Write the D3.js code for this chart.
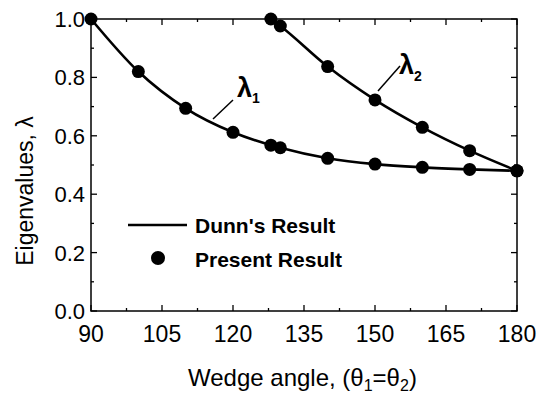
<!DOCTYPE html>
<html>
<head>
<meta charset="utf-8">
<script src="https://cdn.jsdelivr.net/npm/d3@7"></script>
<style>
  html, body { margin: 0; padding: 0; background: #fff; }
  svg { display: block; }
  text { font-family: "Liberation Sans", Arial, sans-serif; fill: #000; }
</style>
</head>
<body>
<script>
// Wedge angle (degrees, θ1 = θ2)
const angles1 = [90, 100, 110, 120, 128, 130, 140, 150, 160, 170, 180];
const lambda1 = [1.0, 0.820, 0.694, 0.612, 0.568, 0.559, 0.523, 0.503, 0.492, 0.485, 0.480];
const angles2 = [128, 130, 140, 150, 160, 170, 180];
const lambda2 = [1.0, 0.976, 0.837, 0.723, 0.629, 0.549, 0.480];

const xTicks = [90, 105, 120, 135, 150, 165, 180];
const yTicks = [0.0, 0.2, 0.4, 0.6, 0.8, 1.0];

const W = 543, H = 394;
const margin = { left: 91, right: 26, top: 19, bottom: 83 };

const svg = d3.select("body").append("svg").attr("width", W).attr("height", H);

const x = d3.scaleLinear().domain([90, 180]).range([margin.left, W - margin.right]);
const y = d3.scaleLinear().domain([0, 1]).range([H - margin.bottom, margin.top]);

const x0 = x.range()[0], x1 = x.range()[1], y0 = y.range()[0], y1 = y.range()[1];

// Frame
svg.append("rect")
  .attr("x", x0).attr("y", y1).attr("width", x1 - x0).attr("height", y0 - y1)
  .attr("fill", "none").attr("stroke", "#000").attr("stroke-width", 1.5);

// Inward ticks on all four sides
const g = svg.append("g").attr("stroke", "#000").attr("stroke-width", 1.3);
const xMinor = d3.range(97.5, 180, 15);
const yMinor = d3.range(0.1, 1.0, 0.2);
xTicks.forEach(v => {
  g.append("line").attr("x1", x(v)).attr("x2", x(v)).attr("y1", y0).attr("y2", y0 - 6);
  g.append("line").attr("x1", x(v)).attr("x2", x(v)).attr("y1", y1).attr("y2", y1 + 6);
});
xMinor.forEach(v => {
  g.append("line").attr("x1", x(v)).attr("x2", x(v)).attr("y1", y0).attr("y2", y0 - 3);
  g.append("line").attr("x1", x(v)).attr("x2", x(v)).attr("y1", y1).attr("y2", y1 + 3);
});
yTicks.forEach(v => {
  g.append("line").attr("x1", x0).attr("x2", x0 + 6).attr("y1", y(v)).attr("y2", y(v));
  g.append("line").attr("x1", x1).attr("x2", x1 - 6).attr("y1", y(v)).attr("y2", y(v));
});
yMinor.forEach(v => {
  g.append("line").attr("x1", x0).attr("x2", x0 + 3).attr("y1", y(v)).attr("y2", y(v));
  g.append("line").attr("x1", x1).attr("x2", x1 - 3).attr("y1", y(v)).attr("y2", y(v));
});

// Tick labels
svg.append("g").selectAll("text").data(xTicks).join("text")
  .attr("x", d => x(d)).attr("y", y0 + 31)
  .attr("text-anchor", "middle").attr("font-size", 23)
  .text(d => d);
svg.append("g").selectAll("text").data(yTicks).join("text")
  .attr("x", x0 - 6).attr("y", d => y(d) + 8)
  .attr("text-anchor", "end").attr("font-size", 22)
  .text(d => d.toFixed(1));

// Axis titles
const xt = svg.append("text").attr("x", 188).attr("y", 386).attr("font-size", 24);
xt.append("tspan").text("Wedge angle, (θ");
xt.append("tspan").attr("font-size", 16).attr("dy", 5).text("1");
xt.append("tspan").attr("dy", -5).text("=θ");
xt.append("tspan").attr("font-size", 16).attr("dy", 5).text("2");
xt.append("tspan").attr("dy", -5).text(")");

svg.append("text")
  .attr("transform", "translate(33,191) rotate(-90)")
  .attr("text-anchor", "middle").attr("font-size", 23)
  .text("Eigenvalues, λ");

// Curves (Dunn's result)
const line = d3.line().x(d => x(d[0])).y(d => y(d[1])).curve(d3.curveMonotoneX);
const s1 = angles1.map((a, i) => [a, lambda1[i]]);
const s2 = angles2.map((a, i) => [a, lambda2[i]]);
[s1, s2].forEach(s => {
  svg.append("path").datum(s).attr("d", line)
    .attr("fill", "none").attr("stroke", "#000").attr("stroke-width", 2.6);
});

// Points (present result)
[s1, s2].forEach(s => {
  svg.append("g").selectAll("circle").data(s).join("circle")
    .attr("cx", d => x(d[0])).attr("cy", d => y(d[1])).attr("r", 6.5)
    .attr("fill", "#000");
});

// Curve labels with leader lines
svg.append("line").attr("x1", 233).attr("y1", 100).attr("x2", 213).attr("y2", 119)
  .attr("stroke", "#000").attr("stroke-width", 1.5);
const l1 = svg.append("text").attr("x", 237).attr("y", 97)
  .attr("font-family", "Liberation Serif, serif").attr("font-weight", "bold").attr("font-size", 27);
l1.append("tspan").text("λ");
l1.append("tspan").attr("font-size", 14).attr("dy", 6).attr("font-family", "Liberation Sans, sans-serif").text("1");

svg.append("line").attr("x1", 400).attr("y1", 66).attr("x2", 378).attr("y2", 91)
  .attr("stroke", "#000").attr("stroke-width", 1.5);
const l2 = svg.append("text").attr("x", 399).attr("y", 74)
  .attr("font-family", "Liberation Serif, serif").attr("font-weight", "bold").attr("font-size", 27);
l2.append("tspan").text("λ");
l2.append("tspan").attr("font-size", 14).attr("dy", 7).attr("font-family", "Liberation Sans, sans-serif").text("2");

// Legend
svg.append("line").attr("x1", 128).attr("x2", 187).attr("y1", 225).attr("y2", 225)
  .attr("stroke", "#000").attr("stroke-width", 2.6);
svg.append("text").attr("x", 195).attr("y", 233).attr("font-size", 21).attr("font-weight", "bold")
  .text("Dunn's Result");
svg.append("circle").attr("cx", 158).attr("cy", 258).attr("r", 7).attr("fill", "#000");
svg.append("text").attr("x", 195).attr("y", 267).attr("font-size", 21).attr("font-weight", "bold")
  .text("Present Result");
</script>
</body>
</html>
